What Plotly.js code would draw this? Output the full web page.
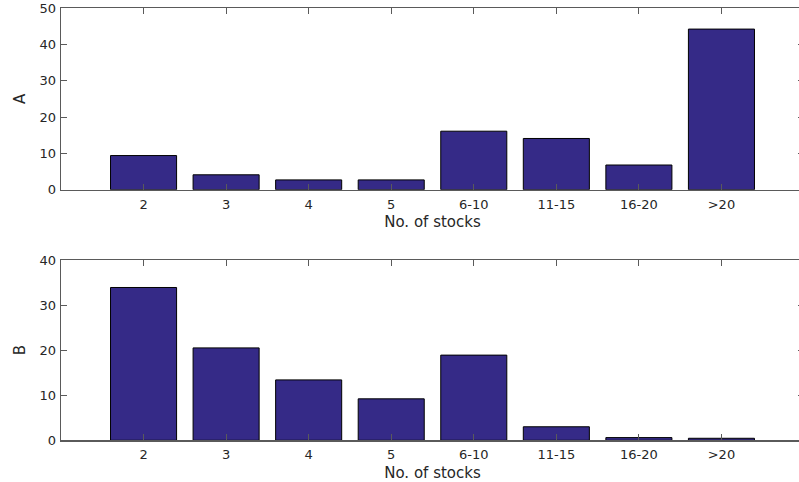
<!DOCTYPE html>
<html>
<head>
<meta charset="utf-8">
<script src="https://cdn.plot.ly/plotly-3.0.1.min.js"></script>
<style>
  html, body { margin: 0; padding: 0; overflow: hidden; background: #fff; }
  #chart { width: 805px; height: 482px; }
</style>
</head>
<body>
<div id="chart"></div>
<script>
// Portfolio size groups (number of stocks held)
const categories = ['2', '3', '4', '5', '6-10', '11-15', '16-20', '>20'];
// Share of group A by portfolio size
const valuesA = [9.4, 4.1, 2.7, 2.7, 16.1, 14.1, 6.8, 44.2];
// Share of group B by portfolio size
const valuesB = [33.9, 20.5, 13.4, 9.2, 18.9, 3.0, 0.6, 0.45];

const barColor = '#352a87';
const inkColor = '#262626';
const lineColor = '#5a5a5a';
const fontFamily = 'DejaVu Sans, Arial, sans-serif';

function barTrace(y, xa, ya) {
  return {
    type: 'bar',
    x: categories,
    y: y,
    xaxis: xa,
    yaxis: ya,
    width: 0.8,
    marker: { color: barColor, line: { color: '#000', width: 1 } },
    hoverinfo: 'x+y'
  };
}

function xAxis(domainAnchor) {
  return {
    anchor: domainAnchor,
    type: 'category',
    range: [-1, 8],
    showgrid: false,
    zeroline: false,
    showline: true,
    linecolor: lineColor,
    linewidth: 1.3,
    mirror: 'ticks',
    ticks: 'inside',
    ticklen: 6,
    tickwidth: 1,
    tickcolor: lineColor,
    tickfont: { family: fontFamily, size: 13, color: inkColor },
    ticklabelstandoff: 2,
    title: { text: 'No. of stocks', font: { family: fontFamily, size: 15, color: inkColor }, standoff: 6 }
  };
}

function yAxis(domain, range, title, anchor) {
  return {
    anchor: anchor,
    domain: domain,
    range: range,
    dtick: 10,
    showgrid: false,
    zeroline: false,
    showline: true,
    linecolor: lineColor,
    linewidth: 1.3,
    mirror: 'ticks',
    ticks: 'inside',
    ticklen: 6,
    tickwidth: 1,
    tickcolor: lineColor,
    tickfont: { family: fontFamily, size: 13, color: inkColor },
    ticklabelstandoff: 1,
    title: { text: title, font: { family: fontFamily, size: 15, color: inkColor }, standoff: 10 }
  };
}

const data = [
  barTrace(valuesA, 'x', 'y'),
  barTrace(valuesB, 'x2', 'y2')
];

const layout = {
  width: 805,
  height: 482,
  margin: { l: 61, r: 1, t: 0, b: 0 },
  paper_bgcolor: '#fff',
  plot_bgcolor: '#fff',
  showlegend: false,
  bargap: 0.2,
  xaxis: xAxis('y'),
  yaxis: yAxis([0.6064, 0.9834], [0, 50], 'A', 'x'),
  xaxis2: xAxis('y2'),
  yaxis2: yAxis([0.0865, 0.4606], [0, 40], 'B', 'x2')
};

Plotly.newPlot('chart', data, layout, { displayModeBar: false, staticPlot: true });
</script>
</body>
</html>
